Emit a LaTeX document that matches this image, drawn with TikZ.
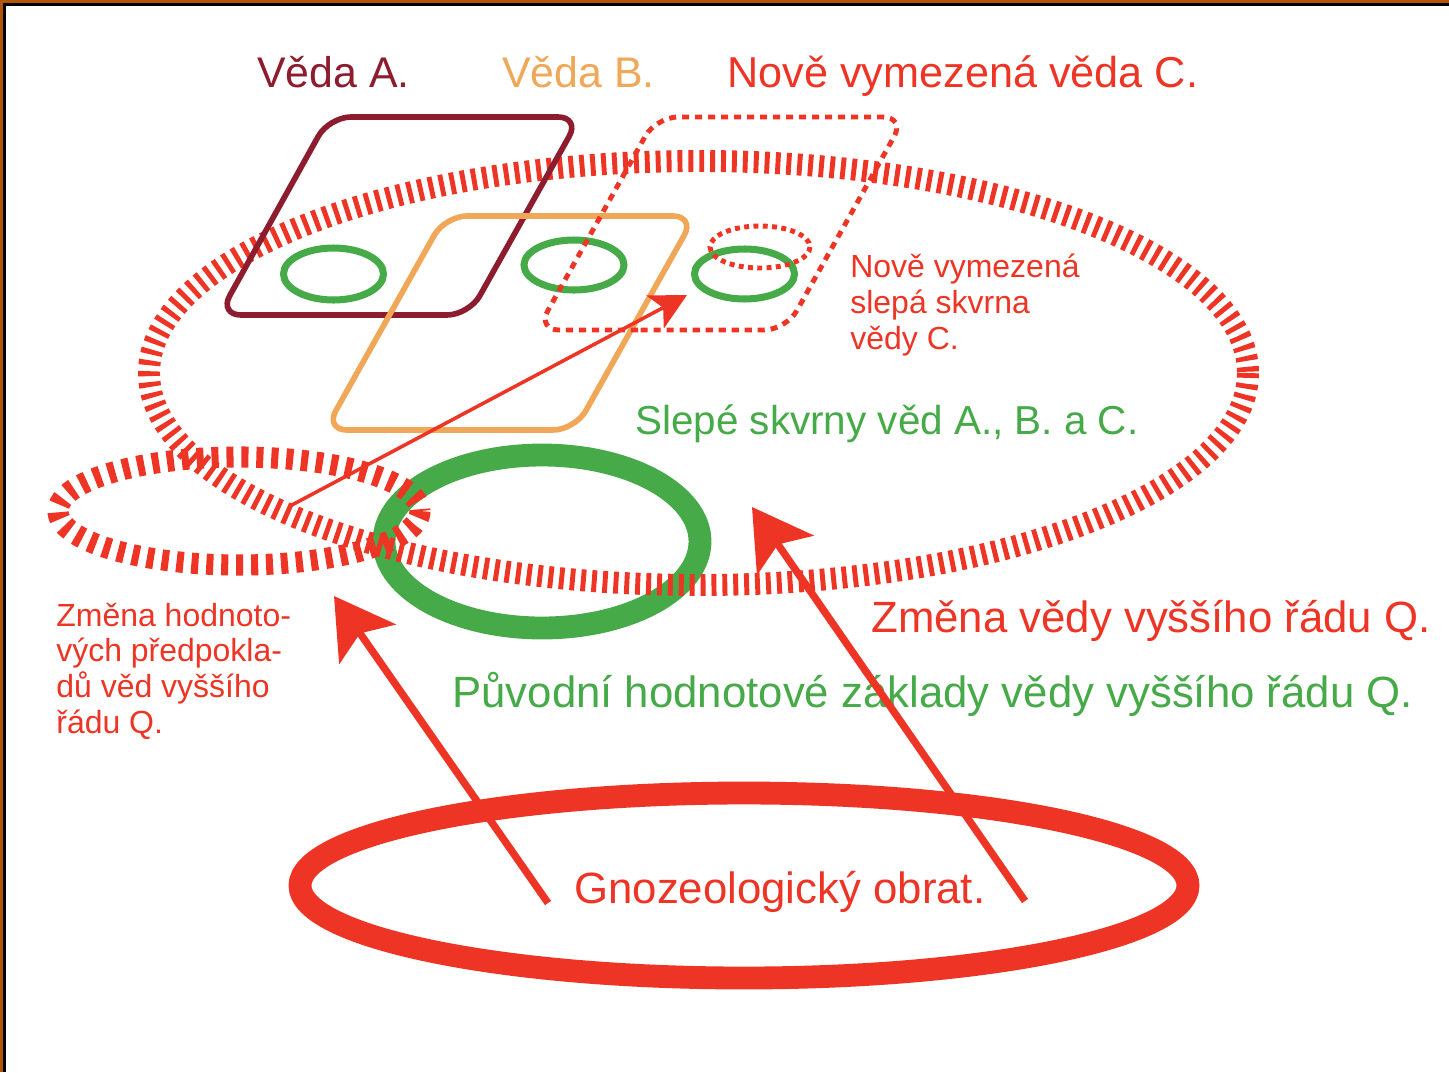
\documentclass[tikz,border=0pt]{standalone}
\usepackage{fontspec}
\setsansfont{Liberation Sans}
\usepackage{tikz}
\usetikzlibrary{arrows.meta}
\definecolor{scired}{RGB}{238,52,36}
\definecolor{scidark}{RGB}{140,28,46}
\definecolor{sciorange}{RGB}{240,168,88}
\definecolor{scigreen}{RGB}{70,170,72}
\definecolor{framebrown}{RGB}{178,84,10}

\begin{document}
\begin{tikzpicture}[
  x=0.02cm, y=-0.02cm,
  bigtext/.style={anchor=base west, inner sep=0pt,
    font=\sffamily\fontsize{24.9}{28}\selectfont},
  toptext/.style={bigtext, font=\sffamily\fontsize{24.4}{28}\selectfont},
  smalltext/.style={anchor=base west, inner sep=0pt, align=left,
    font=\sffamily\fontsize{18.2}{20.3}\selectfont, text=scired},
  field/.style={line width=3.2pt, rounded corners=0.44cm},
  spot/.style={draw=scigreen, line width=4pt},
  arrow/.style={-{Stealth[length=0.72cm, width=0.74cm, inset=0.18cm]},
    line width=2pt, scired},
  bigarrow/.style={-{Stealth[length=1.17cm, width=1.37cm, inset=0.26cm]},
    line width=4.2pt, scired},
]
  \useasboundingbox (0,0) rectangle (1449,1072);
  \fill[white] (0,0) rectangle (1449,1072);
  \fill[framebrown] (0,0) rectangle (1449,3);
  \fill[framebrown] (0,0) rectangle (3,1072);
  \fill[black] (3,3) rectangle (1449,6);
  \fill[black] (3,3) rectangle (6,1072);

  \draw[scigreen, line width=13pt] (542,541.5) ellipse [x radius=158, y radius=86.5];
  \draw[scired, line width=12.5pt, dash pattern=on 2.8pt off 3.4pt]
    (698.5,373) ellipse [x radius=549.5, y radius=212];
  \draw[scired, line width=12pt, dash pattern=on 4pt off 4.5pt]
    (239,511) ellipse [x radius=181, y radius=54];

  \draw[spot] (333.5,274) ellipse [x radius=50, y radius=26];
  \draw[spot] (574,265) ellipse [x radius=50, y radius=25];
  \draw[spot] (744.5,274) ellipse [x radius=50, y radius=25];

  \draw[field, scidark] (344,315) -- (219,315) -- (329,117) -- (580,117)
    -- (469,315) -- cycle;
  \draw[field, sciorange] (450,430) -- (325,430) -- (445,216) -- (695,216)
    -- (575,430) -- cycle;
  \draw[field, scired, line width=2.8pt, dash pattern=on 4pt off 3.4pt]
    (660,330) -- (537,330) -- (656,117) -- (905,117) -- (786,330) -- cycle;
  \draw[scired, line width=2.8pt, dash pattern=on 2.8pt off 2.5pt]
    (760,247) ellipse [x radius=50, y radius=21];

  \draw[scired, line width=13pt] (744,885.5) ellipse [x radius=444, y radius=92.5];

  \node[toptext, text=scidark] (vedaA) at (257,87) {Věda A.};
  \node[toptext, text=sciorange] (vedaB) at (502,87) {Věda B.};
  \node[toptext, text=scired, font=\sffamily\fontsize{24.6}{28}\selectfont]
    (vedaC) at (727,87) {Nově vymezená věda C.};
  \node[smalltext] (spotC) at (850,349) {Nově vymezená\\slepá skvrna\\vědy C.};
  \node[bigtext, text=scigreen, font=\sffamily\fontsize{23}{27}\selectfont]
    (spots) at (635,434) {Slepé skvrny věd A., B. a C.};
  \node[bigtext, text=scired] (changeQ) at (871,632) {Změna vědy vyššího řádu Q.};
  \node[bigtext, text=scigreen] (basisQ) at (452,707)
    {Původní hodnotové základy vědy vyššího řádu Q.};
  \node[smalltext] (changeVal) at (56,733)
    {Změna hodnoto-\\vých předpokla-\\dů věd vyššího\\řádu Q.};
  \node[bigtext, text=scired] (gnoz) at (574,903) {Gnozeologický obrat.};

  \coordinate (fromVal) at (290,506);
  \coordinate (toSpotC) at (687,295);
  \coordinate (gnozLeft) at (548,903);
  \coordinate (toVal) at (334,596);
  \coordinate (gnozRight) at (1025,901);
  \coordinate (toQ) at (752,507);

  \draw[arrow] (fromVal) -- (toSpotC);
  \draw[bigarrow] (gnozLeft) -- (toVal);
  \draw[bigarrow] (gnozRight) -- (toQ);
\end{tikzpicture}
\end{document}
